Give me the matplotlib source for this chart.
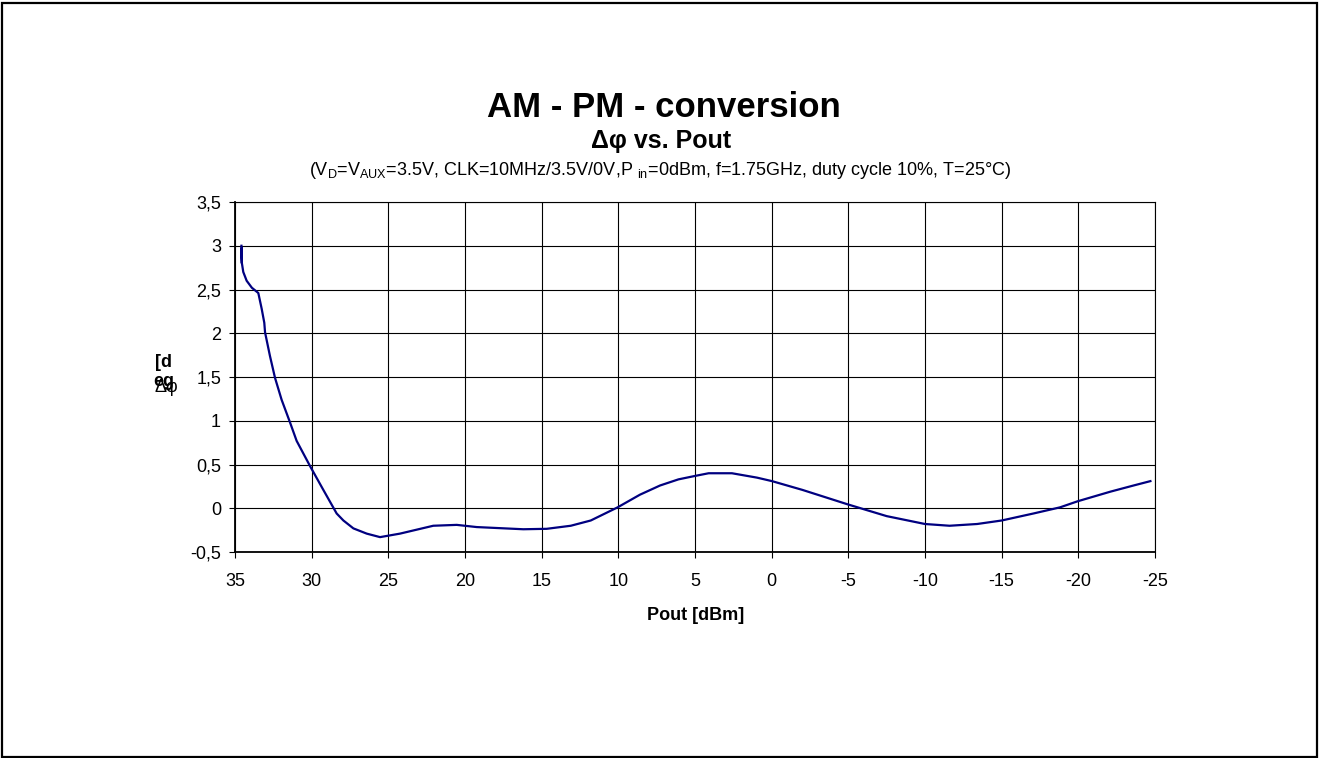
import matplotlib
matplotlib.use("Agg")
import matplotlib.pyplot as plt
from matplotlib.patches import Rectangle

plt.rcParams['font.family'] = ['Liberation Sans', 'DejaVu Sans']
plt.rcParams['mathtext.fontset'] = 'custom'
plt.rcParams['mathtext.rm'] = 'Liberation Sans'

# Data (Pout in dBm, delta phi in deg)
pout = [34.58, 34.55, 34.57, 34.55, 34.46, 34.24, 33.90, 33.48, 33.26, 33.09, 33.04,
        32.72, 32.39, 31.96, 31.41, 30.98, 30.10, 29.24, 28.37, 27.93, 27.28, 26.41, 25.54,
        24.24, 22.07, 20.54, 19.24, 16.20, 14.67, 13.10, 11.80, 10.05, 8.59, 7.28,
        6.08, 4.98, 4.11, 2.59, 0.96, -0.02, -2.00, -4.95, -7.50, -10.00, -11.60,
        -13.40, -15.00, -17.07, -18.80, -19.96, -22.10, -23.60, -24.70]
dphi = [3.00, 2.80, 2.97, 2.80, 2.70, 2.60, 2.52, 2.46, 2.28, 2.12, 2.01,
        1.74, 1.49, 1.24, 0.98, 0.77, 0.48, 0.21, -0.06, -0.14, -0.23, -0.29, -0.33,
        -0.29, -0.20, -0.19, -0.215, -0.24, -0.235, -0.20, -0.14, 0.01, 0.155, 0.26,
        0.33, 0.37, 0.40, 0.40, 0.35, 0.31, 0.21, 0.045, -0.09, -0.18, -0.20,
        -0.18, -0.14, -0.06, 0.01, 0.08, 0.19, 0.26, 0.31]

xticks = [35, 30, 25, 20, 15, 10, 5, 0, -5, -10, -15, -20, -25]
yticks = [-0.5, 0, 0.5, 1, 1.5, 2, 2.5, 3, 3.5]
ytick_labels = ['-0,5', '0', '0,5', '1', '1,5', '2', '2,5', '3', '3,5']

W, H = 1319, 758
fig = plt.figure(figsize=(W / 100, H / 100), dpi=100)
fig.patch.set_facecolor('white')

# outer frame
fig.patches.append(Rectangle((2 / W, 1 / H), (W - 4) / W, (H - 4) / H, transform=fig.transFigure,
                             fill=False, edgecolor='black', linewidth=1.6))

left, right, top, bottom = 235, 1155, 202, 552
ax = fig.add_axes([left / W, 1 - bottom / H, (right - left) / W, (bottom - top) / H])

ax.plot(pout, dphi, color='#000080', linewidth=1.6, solid_joinstyle='round')

ax.set_xlim(35, -25)
ax.set_ylim(-0.5, 3.5)
ax.set_xticks(xticks)
ax.set_xticklabels([str(t) for t in xticks])
ax.set_yticks(yticks)
ax.set_yticklabels(ytick_labels)
ax.grid(True, color='black', linewidth=0.8)
ax.set_axisbelow(True)
for s in ax.spines.values():
    s.set_color('black')
    s.set_linewidth(0.8)
ax.spines['bottom'].set_linewidth(1.3)
ax.spines['left'].set_linewidth(1.3)
ax.tick_params(direction='out', length=4, width=0.8, labelsize=13, colors='black')
ax.tick_params(axis='x', pad=11)
ax.tick_params(axis='y', pad=6)

# x axis title
fig.text(696 / W, 1 - 615 / H, 'Pout [dBm]', ha='center', va='center',
         fontsize=13, fontweight='bold')

# Titles
fig.text(664 / W, 1 - 117 / H, 'AM - PM - conversion', ha='center', va='baseline',
         fontsize=25, fontweight='bold')
fig.text(661 / W, 1 - 148 / H, 'Δφ vs. Pout', ha='center', va='baseline',
         fontsize=18, fontweight='bold')
fig.text(660 / W, 1 - 175 / H,
         r'(V$_\mathregular{D}$=V$_\mathregular{AUX}$=3.5V, CLK=10MHz/3.5V/0V,P $_\mathregular{in}$=0dBm, f=1.75GHz, duty cycle 10%, T=25°C)',
         ha='center', va='baseline', fontsize=13)

# Garbled y label as in the reference
fig.text(164 / W, 1 - 363 / H, '[d', ha='center', va='center', fontsize=13, fontweight='bold')
fig.text(164 / W, 1 - 382 / H, 'eg', ha='center', va='center', fontsize=13, fontweight='bold')
fig.text(166 / W, 1 - 387 / H, 'Δφ', ha='center', va='center', fontsize=13)

fig.savefig('out.png', dpi=100, facecolor='white')
